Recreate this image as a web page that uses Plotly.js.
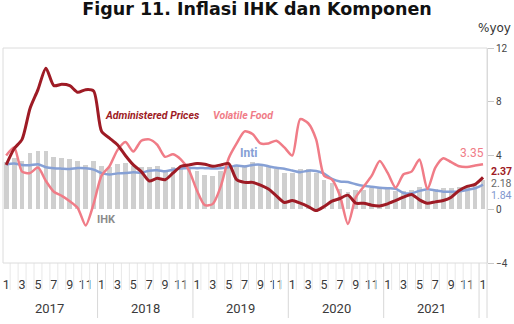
<!DOCTYPE html>
<html>
<head>
<meta charset="utf-8">
<script src="https://cdn.plot.ly/plotly-3.0.1.min.js"></script>
<style>
  html, body { margin: 0; padding: 0; background: #fff; }
  #chart { width: 514px; height: 324px; }
</style>
</head>
<body>
<div id="chart"></div>
<script>
// Inflasi bulanan (% yoy), Januari 2017 - Januari 2022
const years = ['2017', '2018', '2019', '2020', '2021'];
const monthTicks = ['1', '3', '5', '7', '9', '11'];

// IHK (headline) - batang abu-abu
const ihk = [
  3.49, 3.83, 3.61, 4.17, 4.33, 4.37, 3.88, 3.82, 3.72, 3.58, 3.30, 3.61,
  3.25, 3.18, 3.40, 3.41, 3.23, 3.12, 3.18, 3.20, 2.88, 3.16, 3.23, 3.13,
  2.82, 2.57, 2.48, 2.83, 3.32, 3.28, 3.32, 3.49, 3.39, 3.13, 3.00, 2.72,
  2.68, 2.98, 2.96, 2.67, 2.19, 1.96, 1.54, 1.32, 1.42, 1.44, 1.59, 1.68,
  1.55, 1.38, 1.37, 1.42, 1.68, 1.33, 1.52, 1.59, 1.60, 1.66, 1.75, 1.87,
  2.18
];

// Inti (core)
const inti = [
  3.35, 3.41, 3.30, 3.28, 3.35, 3.13, 3.05, 3.02, 3.00, 3.07, 3.05, 2.95,
  2.69, 2.58, 2.67, 2.69, 2.75, 2.72, 2.87, 2.90, 2.82, 2.94, 3.03, 3.07,
  3.06, 3.06, 3.03, 3.05, 3.12, 3.25, 3.18, 3.30, 3.32, 3.20, 3.08, 3.02,
  2.88, 2.76, 2.87, 2.85, 2.65, 2.26, 2.07, 2.03, 1.86, 1.74, 1.67, 1.60,
  1.56, 1.53, 1.21, 1.18, 1.37, 1.49, 1.40, 1.31, 1.30, 1.33, 1.44, 1.56,
  1.84
];

// Administered Prices
const administered = [
  3.3, 4.5, 5.2, 7.5, 8.9, 10.5, 9.2, 9.3, 9.2, 8.7, 8.9, 8.8,
  5.8, 5.3, 4.8, 4.0, 3.3, 2.8, 2.1, 2.3, 2.2, 2.7, 3.2, 3.3,
  3.4, 3.35, 3.2, 3.3, 3.4, 2.2, 2.0, 2.0, 1.8, 1.5, 1.0, 0.5,
  0.65, 0.45, 0.2, -0.1, 0.2, 0.6, 0.8, 1.05, 0.45, 0.45, 0.3, 0.25,
  0.4, 0.65, 0.9, 1.1, 0.7, 0.45, 0.55, 0.65, 0.9, 1.4, 1.7, 1.85,
  2.37
];

// Volatile Food
const volatileFood = [
  4.0, 4.6, 2.8, 2.7, 3.1, 2.1, 1.3, 1.0, 0.6, 0.1, -1.2, 0.4,
  2.5, 3.2, 4.4, 5.0, 4.3, 5.1, 5.2, 4.8, 3.9, 4.1, 3.7, 2.9,
  1.4, 0.3, 0.4, 1.7, 3.8, 4.9, 5.8, 5.6, 4.9, 4.9, 5.1, 4.6,
  4.0, 6.7, 6.4, 5.2, 2.5, 2.2, 1.0, -1.1, 0.9, 1.7, 2.5, 3.6,
  2.7, 1.6, 2.6, 2.8, 3.7, 1.5, 3.1, 3.8, 3.5, 3.2, 3.15, 3.25,
  3.35
];

const n = ihk.length;
const months = Array.from({ length: n }, (_, i) => i);

const COL_ADM = '#9e1b25';
const COL_VF = '#f07c87';
const COL_INTI = '#86a0d5';
const COL_IHK = '#cfcfcf';
const NARROW = '"Liberation Sans Narrow", Roboto, sans-serif';

const lineCommon = { shape: 'spline', smoothing: 0.7 };

const traces = [
  {
    type: 'bar', x: months, y: ihk, width: 0.6,
    marker: { color: COL_IHK, line: { width: 0 } },
    hoverinfo: 'skip'
  },
  {
    type: 'scatter', mode: 'lines', x: months, y: inti,
    line: Object.assign({ color: COL_INTI, width: 2.5 }, lineCommon)
  },
  {
    type: 'scatter', mode: 'lines', x: months, y: volatileFood,
    line: Object.assign({ color: COL_VF, width: 2.5 }, lineCommon)
  },
  {
    type: 'scatter', mode: 'lines', x: months, y: administered,
    line: Object.assign({ color: COL_ADM, width: 3 }, lineCommon)
  }
];

// Month ticks: 1,3,5,...,11 each year, then the closing January
const tickvals = [];
const ticktext = [];
for (let i = 0; i < n; i += 2) {
  tickvals.push(i);
  ticktext.push(monthTicks[(i % 12) / 2]);
}

// Separators under the plot: short for months, long for years
const shapes = [];
const shortDrop = -27 / 215;
const longDrop = -55 / 215;
for (let i = 1; i < n; i++) {
  const isYear = i % 12 === 0;
  shapes.push({
    type: 'line', xref: 'x', yref: 'paper',
    x0: i - 0.5, x1: i - 0.5, y0: 0, y1: isYear ? longDrop : shortDrop,
    line: { color: isYear ? '#d8d8d8' : '#e8e8e8', width: 1 }
  });
}
// frame around the plot and the right edge running down through the axis
shapes.push({
  type: 'rect', xref: 'paper', yref: 'paper', x0: 0, x1: 1, y0: 0, y1: 1,
  line: { color: '#dcdcdc', width: 1 }, layer: 'above'
});
shapes.push({
  type: 'line', xref: 'paper', yref: 'paper', x0: 1, x1: 1, y0: 0, y1: longDrop,
  line: { color: '#d8d8d8', width: 1 }
});

const annotations = [];
years.forEach((yr, k) => {
  annotations.push({
    xref: 'x', yref: 'paper', x: k * 12 + 5.5, y: -45 / 215,
    text: yr, showarrow: false, yanchor: 'middle',
    font: { family: NARROW, size: 13, color: '#3a3a3a' }
  });
});

const last = n - 1;
const sideLabel = (val, y, color, bold) => ({
  xref: 'paper', yref: 'y', x: 1.004, y: y, xanchor: 'left', yanchor: 'middle',
  text: bold ? '<b>' + val.toFixed(2) + '</b>' : val.toFixed(2),
  showarrow: false, font: { family: NARROW, size: 10.5, color: color }
});
annotations.push(sideLabel(administered[last], 2.8, COL_ADM, true));
annotations.push(sideLabel(ihk[last], 1.9, '#666666', false));
annotations.push(sideLabel(inti[last], 1.0, '#7f98cf', false));
annotations.push({
  xref: 'x', yref: 'y', x: 58.55, y: 4.18, showarrow: false,
  text: volatileFood[last].toFixed(2),
  font: { family: NARROW, size: 12, color: COL_VF }
});

// Series names placed next to their lines
annotations.push({
  xref: 'x', yref: 'y', x: 18.4, y: 6.94, showarrow: false,
  text: '<b><i>Administered Prices</i></b>',
  font: { family: NARROW, size: 10.5, color: COL_ADM }
});
annotations.push({
  xref: 'x', yref: 'y', x: 29.9, y: 6.94, showarrow: false,
  text: '<b><i>Volatile Food</i></b>',
  font: { family: NARROW, size: 10.5, color: COL_VF }
});
annotations.push({
  xref: 'x', yref: 'y', x: 30.5, y: 4.2, showarrow: false,
  text: '<b>Inti</b>',
  font: { family: NARROW, size: 12, color: COL_INTI }
});
annotations.push({
  xref: 'x', yref: 'y', x: 12.6, y: -0.75, showarrow: false,
  text: '<b>IHK</b>',
  font: { family: NARROW, size: 11, color: '#8c8c8c' }
});
annotations.push({
  xref: 'paper', yref: 'paper', x: 1.0537, y: (263 - 28) / 215,
  xanchor: 'right', yanchor: 'middle', showarrow: false,
  text: '%yoy',
  font: { family: 'DejaVu Sans, sans-serif', size: 12, color: '#333' }
});

const layout = {
  width: 514, height: 324,
  margin: { l: 3, r: 27, t: 48, b: 61, pad: 0 },
  paper_bgcolor: '#ffffff', plot_bgcolor: '#ffffff',
  showlegend: false,
  bargap: 0,
  title: {
    text: '<b>Figur 11. Inflasi IHK dan Komponen</b>',
    x: 0.5, xanchor: 'center', y: 1 - 9 / 324, yanchor: 'middle',
    font: { family: 'DejaVu Sans, sans-serif', size: 17.5, color: '#111' }
  },
  xaxis: {
    range: [-0.4, 60.5], showgrid: false, zeroline: false, showline: false,
    tickmode: 'array', tickvals: tickvals, ticktext: ticktext,
    ticks: 'outside', ticklen: 10, tickcolor: 'rgba(0,0,0,0)',
    tickfont: { family: NARROW, size: 12.5, color: '#3a3a3a' },
    fixedrange: true
  },
  yaxis: {
    side: 'right', range: [-4, 12], tickvals: [-4, 0, 4, 8, 12],
    showgrid: false, zeroline: false, showline: true, linecolor: '#d8d8d8',
    ticks: 'outside', ticklen: 6, tickcolor: '#c8c8c8',
    tickfont: { family: NARROW, size: 10, color: '#444' },
    fixedrange: true
  },
  shapes: shapes,
  annotations: annotations
};

Plotly.newPlot('chart', traces, layout, { displayModeBar: false, staticPlot: true });
</script>
</body>
</html>
